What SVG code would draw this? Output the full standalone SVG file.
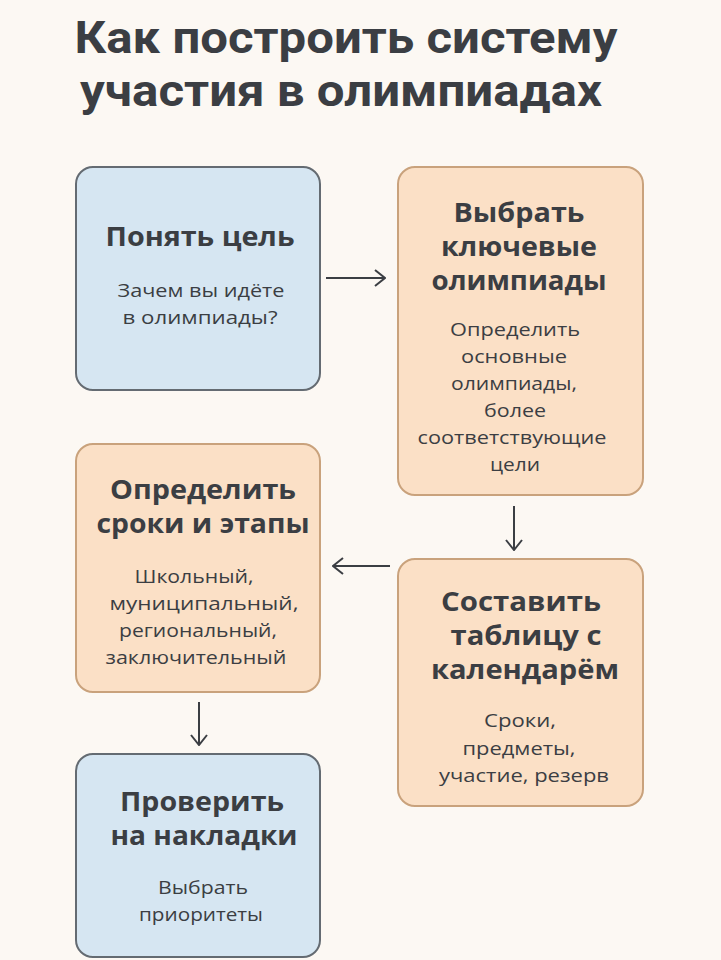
<svg xmlns="http://www.w3.org/2000/svg" width="721" height="960" viewBox="0 0 721 960">
<defs>
<style>
.bg{fill:#fcf8f3}
.blue{fill:#d6e6f2;stroke:#646b72;stroke-width:2}
.peach{fill:#fbe0c6;stroke:#c9a27c;stroke-width:2}
.h{font-family:"Open Sans","DejaVu Sans",sans-serif;font-weight:700;fill:#3b3e43;text-anchor:middle}
.t{font-family:"Open Sans","DejaVu Sans",sans-serif;font-weight:400;fill:#3b3e43;text-anchor:middle;font-size:19px}
.nt{font-size:26px}
.title{font-family:Roboto,"Open Sans",sans-serif;font-size:44px}
.conn{stroke:#3b3e43;stroke-width:2;fill:none}
</style>
<marker id="ah" viewBox="0 0 12 18" refX="11" refY="9" markerWidth="12" markerHeight="18" orient="auto" markerUnits="userSpaceOnUse">
<path d="M1,1 L11,9 L1,17" fill="none" stroke="#3b3e43" stroke-width="2"/>
</marker>
</defs>
<rect class="bg" x="0" y="0" width="721" height="960"/>
<g id="title">
<text class="h title" x="346" y="53" textLength="543" lengthAdjust="spacingAndGlyphs">Как построить систему</text>
<text class="h title" x="341" y="106" textLength="522" lengthAdjust="spacingAndGlyphs">участия в олимпиадах</text>
</g>
<g id="connectors">
<line class="conn" x1="326" y1="278" x2="385" y2="278" marker-end="url(#ah)"/>
<line class="conn" x1="514" y1="506" x2="514" y2="550" marker-end="url(#ah)"/>
<line class="conn" x1="390" y1="566" x2="333" y2="566" marker-end="url(#ah)"/>
<line class="conn" x1="199" y1="702" x2="199" y2="745" marker-end="url(#ah)"/>
</g>
<g id="node1">
<rect class="blue" x="76" y="167" width="244" height="223" rx="17"/>
<text class="h nt" x="200" y="246" textLength="189" lengthAdjust="spacingAndGlyphs">Понять цель</text>
<text class="t" x="201" y="297" textLength="167" lengthAdjust="spacingAndGlyphs">Зачем вы идёте</text>
<text class="t" x="200" y="324" textLength="155" lengthAdjust="spacingAndGlyphs">в олимпиады?</text>
</g>
<g id="node2">
<rect class="peach" x="398" y="167" width="245" height="328" rx="17"/>
<text class="h nt" x="519" y="222" textLength="131" lengthAdjust="spacingAndGlyphs">Выбрать</text>
<text class="h nt" x="519" y="256" textLength="156" lengthAdjust="spacingAndGlyphs">ключевые</text>
<text class="h nt" x="519" y="290" textLength="175" lengthAdjust="spacingAndGlyphs">олимпиады</text>
<text class="t" x="515" y="336" textLength="130" lengthAdjust="spacingAndGlyphs">Определить</text>
<text class="t" x="514" y="363" textLength="106" lengthAdjust="spacingAndGlyphs">основные</text>
<text class="t" x="514" y="390" textLength="126" lengthAdjust="spacingAndGlyphs">олимпиады,</text>
<text class="t" x="515" y="417" textLength="62" lengthAdjust="spacingAndGlyphs">более</text>
<text class="t" x="512" y="444" textLength="189" lengthAdjust="spacingAndGlyphs">соответствующие</text>
<text class="t" x="515" y="471" textLength="50" lengthAdjust="spacingAndGlyphs">цели</text>
</g>
<g id="node3">
<rect class="peach" x="76" y="444" width="244" height="248" rx="17"/>
<text class="h nt" x="203" y="499" textLength="186" lengthAdjust="spacingAndGlyphs">Определить</text>
<text class="h nt" x="203" y="533" textLength="213" lengthAdjust="spacingAndGlyphs">сроки и этапы</text>
<text class="t" x="194" y="583" textLength="119" lengthAdjust="spacingAndGlyphs">Школьный,</text>
<text class="t" x="204" y="610" textLength="189" lengthAdjust="spacingAndGlyphs">муниципальный,</text>
<text class="t" x="198" y="637" textLength="158" lengthAdjust="spacingAndGlyphs">региональный,</text>
<text class="t" x="196" y="664" textLength="181" lengthAdjust="spacingAndGlyphs">заключительный</text>
</g>
<g id="node4">
<rect class="peach" x="398" y="559" width="245" height="247" rx="17"/>
<text class="h nt" x="521" y="611" textLength="160" lengthAdjust="spacingAndGlyphs">Составить</text>
<text class="h nt" x="526" y="645" textLength="151" lengthAdjust="spacingAndGlyphs">таблицу с</text>
<text class="h nt" x="525" y="679" textLength="188" lengthAdjust="spacingAndGlyphs">календарём</text>
<text class="t" x="520" y="727" textLength="72" lengthAdjust="spacingAndGlyphs">Сроки,</text>
<text class="t" x="519" y="755" textLength="113" lengthAdjust="spacingAndGlyphs">предметы,</text>
<text class="t" x="524" y="782" textLength="170" lengthAdjust="spacingAndGlyphs">участие, резерв</text>
</g>
<g id="node5">
<rect class="blue" x="76" y="754" width="244" height="203" rx="17"/>
<text class="h nt" x="202" y="811" textLength="164" lengthAdjust="spacingAndGlyphs">Проверить</text>
<text class="h nt" x="204" y="845" textLength="187" lengthAdjust="spacingAndGlyphs">на накладки</text>
<text class="t" x="203" y="894" textLength="90" lengthAdjust="spacingAndGlyphs">Выбрать</text>
<text class="t" x="201" y="921" textLength="124" lengthAdjust="spacingAndGlyphs">приоритеты</text>
</g>
</svg>
